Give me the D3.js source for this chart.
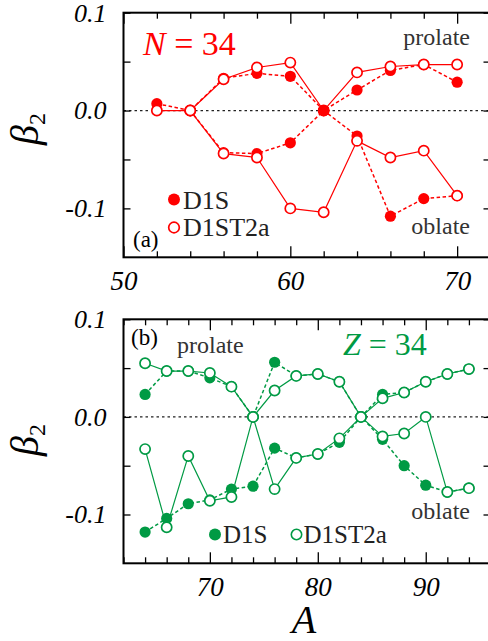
<!DOCTYPE html>
<html><head><meta charset="utf-8">
<script src="https://cdn.jsdelivr.net/npm/d3@7"></script>
<style>body{margin:0;background:#fff;} svg{display:block;}</style>
</head><body>
<svg id="c" width="488" height="641"></svg>
<script>
// ---- data ----
const topA_prolate = [52,54,56,58,60,62,64,66,68,70];
const topD1S_prolate = [0.007,0.000,0.033,0.038,0.035,0.000,0.021,0.041,0.047,0.029];
const topD1ST2a_prolate = [0.000,0.000,0.032,0.044,0.049,0.000,0.039,0.045,0.047,0.047];
const topA_oblate = [54,56,58,60,62,64,66,68,70];
const topD1S_oblate = [0.000,-0.043,-0.044,-0.033,0.000,-0.026,-0.108,-0.090,-0.087];
const topD1ST2a_oblate = [0.000,-0.044,-0.048,-0.100,-0.104,-0.031,-0.048,-0.041,-0.087];

const botA = [64,66,68,70,72,74,76,78,80,82,84,86,88,90,92,94];
const botD1S_prolate = [0.023,0.047,0.047,0.040,0.031,0.000,0.056,0.042,0.044,0.036,0.000,0.023,0.025,0.036,0.044,0.049];
const botD1ST2a_prolate = [0.055,0.047,0.047,0.045,0.031,0.000,0.027,0.042,0.044,0.036,0.000,0.019,0.025,0.036,0.044,0.049];
const botD1S_oblate = [-0.118,-0.104,-0.089,-0.085,-0.074,-0.071,-0.032,-0.042,-0.038,-0.026,0.000,-0.023,-0.050,-0.070,-0.077,-0.073];
const botD1ST2a_oblate = [-0.033,-0.113,-0.040,-0.086,-0.082,0.000,-0.074,-0.042,-0.038,-0.022,0.000,-0.020,-0.017,0.000,-0.077,-0.073];

const yTicks = [-0.1, 0.0, 0.1];
const yTickLabels = ["-0.1", "0.0", "0.1"];
const yMinor = [-0.05, 0.05];
const topXTicks = [50, 60, 70];
const botXTicks = [70, 80, 90];

const svg = d3.select("#c");
const SERIF = '"Liberation Serif"';
const serif = sel => sel.style("font-family", SERIF);

function panel(opts){
  const g = svg.append("g");
  const x = d3.scaleLinear().domain(opts.xDomain).range([123.5, 490.5]);
  const y = d3.scaleLinear().domain([-0.15, 0.1]).range([opts.bottom, opts.top]);
  const [x0,x1] = x.range(), [y0,y1] = y.range();
  g.append("line").attr("x1",x0).attr("x2",x1).attr("y1",y(0)).attr("y2",y(0))
    .attr("stroke","#222").attr("stroke-width",1.3).attr("stroke-dasharray","2.5,3");
  const minorX = d3.range(opts.xDomain[0], opts.xDomain[1]+0.001, 2).filter(v=>!opts.xTicks.includes(v));
  const mk = (axis, tr) => { const a = g.append("g").attr("transform",tr).call(axis);
    a.select(".domain").remove(); a.selectAll(".tick line").attr("stroke","#000").attr("stroke-width",1.3); return a; };
  const bMaj = mk(d3.axisBottom(x).tickValues(opts.xTicks).tickSize(-11).tickPadding(14)
     .tickFormat(d3.format("d")), `translate(0,${y0})`);
  bMaj.selectAll("text").call(serif).style("font-style","italic").style("font-size","27px").attr("fill","#000");
  mk(d3.axisBottom(x).tickValues(minorX).tickSize(-6).tickFormat(""), `translate(0,${y0})`);
  mk(d3.axisTop(x).tickValues(opts.xTicks).tickSize(-11).tickFormat(""), `translate(0,${y1})`);
  mk(d3.axisTop(x).tickValues(minorX).tickSize(-6).tickFormat(""), `translate(0,${y1})`);
  const lMaj = mk(d3.axisLeft(y).tickValues(yTicks).tickSize(-7).tickPadding(17)
     .tickFormat((d,i)=>yTickLabels[i]), `translate(${x0},0)`);
  lMaj.selectAll("text").call(serif).style("font-style","italic").style("font-size","26px").attr("fill","#000");
  mk(d3.axisLeft(y).tickValues(yMinor).tickSize(-7).tickFormat(""), `translate(${x0},0)`);
  mk(d3.axisRight(y).tickValues(yTicks.concat(yMinor)).tickSize(-7).tickFormat(""), `translate(${x1},0)`);
  g.append("rect").attr("x",x0).attr("y",y1).attr("width",x1-x0).attr("height",y0-y1)
    .attr("fill","none").attr("stroke","#000").attr("stroke-width",2);

  const line = d3.line().x(d=>x(d[0])).y(d=>y(d[1]));
  const col = opts.color;
  opts.series.forEach(s=>{
    const pts = s.xs.map((a,i)=>[a, s.ys[i]]);
    g.append("path").datum(pts).attr("d",line).attr("fill","none").attr("stroke",col)
      .attr("stroke-width", s.filled?1.5:1.2).attr("stroke-dasharray", s.filled?"3.5,2.5":null);
    g.selectAll(null).data(pts).enter().append("circle")
      .attr("cx",d=>x(d[0])).attr("cy",d=>y(d[1]))
      .attr("r", s.filled?5.6:5.1)
      .attr("fill", s.filled?col:"#fff").attr("stroke",col).attr("stroke-width", s.filled?0:1.7);
  });
  const yl = svg.append("text").attr("transform",`translate(38,${opts.labelY}) rotate(-90)`)
    .attr("text-anchor","middle").attr("fill","#000").call(serif);
  yl.append("tspan").style("font-style","italic").style("font-size","40px").text("β");
  yl.append("tspan").style("font-size","24px").attr("dy",7).text("2");
  return {g,x,y};
}

panel({xDomain:[50,72], xTicks:topXTicks, top:12.7, bottom:257.3, color:"#ff0000", labelY:129,
  series:[
    {xs:topA_prolate, ys:topD1S_prolate, filled:true},
    {xs:topA_prolate, ys:topD1ST2a_prolate, filled:false},
    {xs:topA_oblate, ys:topD1S_oblate, filled:true},
    {xs:topA_oblate, ys:topD1ST2a_oblate, filled:false}
  ]});
const GREEN = "#009a44";
panel({xDomain:[62,96], xTicks:botXTicks, top:319.3, bottom:563.3, color:GREEN, labelY:440,
  series:[
    {xs:botA, ys:botD1S_prolate, filled:true},
    {xs:botA, ys:botD1ST2a_prolate, filled:false},
    {xs:botA, ys:botD1S_oblate, filled:true},
    {xs:botA, ys:botD1ST2a_oblate, filled:false}
  ]});

function txt(x,y,size,fill,str,opts={}){
  return svg.append("text").attr("x",x).attr("y",y).call(serif).style("font-size",size+"px")
    .attr("fill",fill).style("font-style",opts.italic?"italic":"normal").attr("text-anchor",opts.anchor||"start").text(str);
}
const nt = svg.append("text").attr("x",143).attr("y",55).call(serif).style("font-size","34px").attr("fill","#ff0000");
nt.append("tspan").style("font-style","italic").text("N");
nt.append("tspan").text(" = 34");
txt(470,45,24,"#333","prolate",{anchor:"end"});
txt(470,234,24,"#333","oblate",{anchor:"end"});
txt(133,247,23,"#000","(a)");
svg.append("circle").attr("cx",174).attr("cy",199.5).attr("r",6).attr("fill","#ff0000");
svg.append("circle").attr("cx",174).attr("cy",227.5).attr("r",5.3).attr("fill","#fff").attr("stroke","#ff0000").attr("stroke-width",1.7);
txt(183,209,26,"#222","D1S");
txt(183,236,26,"#222","D1ST2a");
const zt = svg.append("text").attr("x",343).attr("y",355).call(serif).style("font-size","32px").attr("fill",GREEN);
zt.append("tspan").style("font-style","italic").text("Z");
zt.append("tspan").text(" = 34");
txt(177,353,24,"#333","prolate");
txt(470,519,24,"#333","oblate",{anchor:"end"});
txt(131,345,23,"#000","(b)");
svg.append("circle").attr("cx",215).attr("cy",534.5).attr("r",6).attr("fill",GREEN);
svg.append("circle").attr("cx",296.5).attr("cy",534.5).attr("r",5.2).attr("fill","#fff").attr("stroke",GREEN).attr("stroke-width",1.6);
txt(223,543,25,"#222","D1S");
txt(303.5,543,25,"#222","D1ST2a");
txt(304,633,40,"#000","A",{italic:true,anchor:"middle"});
</script>
</body></html>
